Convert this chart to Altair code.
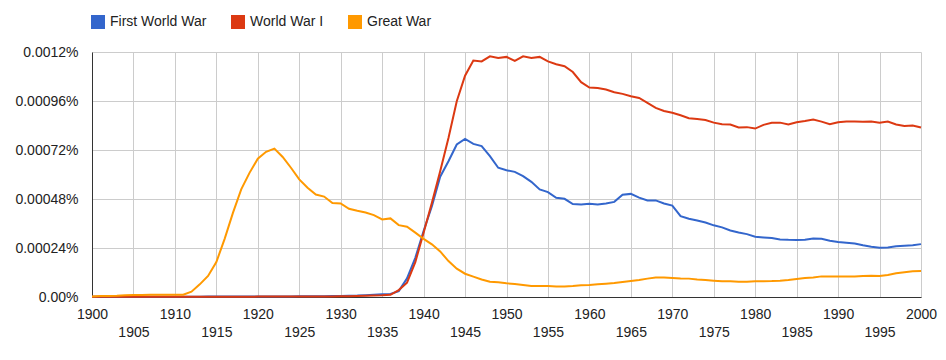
import altair as alt
import pandas as pd

# Values in millionths of a percent (1 = 0.000001%)
years = list(range(1900, 2001))

first_world_war = [
    1, 1, 1, 1, 1, 1, 1, 1, 1, 1,
    1, 1, 1, 1, 2, 2, 2, 2, 2, 2,
    3, 3, 3, 3, 3, 4, 4, 4, 4, 5,
    5, 6, 7, 9, 11,
    13, 15, 29, 91, 192, 323, 445, 589, 665, 747,
    774, 750, 739, 690, 633, 621, 613, 592, 564, 527,
    514, 486, 481, 455, 453, 457, 453, 458, 466, 501,
    505, 487, 473, 473, 458, 448, 396, 383, 375, 365,
    351, 341, 326, 316, 308, 295, 292, 289, 282, 280,
    279, 280, 287, 285, 276, 269, 266, 262, 253, 246,
    241, 243, 249, 251, 253, 259,
]

world_war_i = [
    1, 1, 1, 1, 1, 1, 1, 1, 1, 1,
    1, 1, 1, 1, 1, 1, 1, 1, 1, 1,
    2, 2, 2, 2, 2, 3, 3, 3, 3, 3,
    4, 4, 5, 6, 7,
    8, 11, 34, 70, 171, 315, 461, 616, 779, 959,
    1084, 1158, 1154, 1179, 1171, 1176, 1156, 1179, 1171, 1176,
    1154, 1140, 1130, 1102, 1052, 1026, 1024, 1016, 1003, 995,
    983, 975, 951, 926, 911, 902, 890, 876, 872, 867,
    854, 846, 845, 830, 832, 825, 843, 853, 854, 845,
    856, 862, 869, 859, 846, 856, 859, 859, 858, 859,
    854, 859, 845, 838, 840, 830,
]

great_war = [
    3, 5, 5, 6, 8, 10, 10, 11, 11, 11,
    11, 11, 26, 62, 103, 171, 285, 412, 527, 608,
    677, 711, 727, 686, 633, 576, 535, 502, 492, 460,
    458, 432, 422, 414, 401, 380, 385, 352, 344, 315,
    285, 258, 223, 176, 139, 114, 100, 86, 75, 72,
    67, 64, 59, 54, 54, 54, 52, 52, 54, 57,
    59, 62, 65, 68, 73, 78, 83, 90, 95, 95,
    93, 91, 90, 86, 83, 80, 77, 77, 75, 75,
    77, 77, 78, 80, 83, 88, 93, 96, 101, 101,
    101, 101, 101, 103, 104, 103, 108, 116, 121, 126,
    127,
]

series_names = ["First World War", "World War I", "Great War"]
series_colors = ["#3366cc", "#dc3912", "#ff9900"]
y_ticks = [0, 0.00024, 0.00048, 0.00072, 0.00096, 0.0012]
x_ticks = list(range(1900, 2001, 5))

rows = []
for idx, (name, vals) in enumerate(zip(series_names, [first_world_war, world_war_i, great_war])):
    for yr, v in zip(years, vals):
        rows.append({"year": yr, "series": name, "value": v * 1e-6, "idx": idx})
df = pd.DataFrame(rows)

FONT = "Liberation Sans"
TXT = "#222222"

x_enc = alt.X(
    "year:Q",
    scale=alt.Scale(domain=[1900, 2000], nice=False, zero=False),
    axis=alt.Axis(
        values=x_ticks, format="d", title=None, grid=True, gridColor="#cccccc",
        domainColor="#333333", ticks=False, labelFlush=False, labelOverlap=False,
        labelPadding=10, labelFontSize=14, labelFont=FONT, labelColor=TXT,
        labelExpr="datum.value % 10 == 5 ? ['', datum.label] : datum.label",
        labelLineHeight=18,
    ),
)
y_enc = alt.Y(
    "value:Q",
    scale=alt.Scale(domain=[0, 0.0012], nice=False),
    axis=alt.Axis(
        values=y_ticks, title=None, grid=True, gridColor="#cccccc",
        domainColor="#333333", ticks=False, labelPadding=14, labelFontSize=14,
        labelFont=FONT, labelColor=TXT,
        labelExpr="datum.value == 0 ? '0.00%' : format(datum.value, '.5~f') + '%'",
    ),
)
color_scale = alt.Scale(domain=series_names, range=series_colors)

lines = alt.Chart(df).mark_line(strokeWidth=2).encode(
    x=x_enc, y=y_enc,
    color=alt.Color("series:N", scale=color_scale, legend=None),
    detail="idx:N",
)

legend_pts = alt.Chart(df).mark_point(filled=True, shape="square", opacity=0, size=1).encode(
    x=alt.X("year:Q"), y=alt.Y("value:Q"),
    color=alt.Color(
        "series:N", scale=color_scale, sort=series_names,
        legend=alt.Legend(
            title=None, orient="none", legendX=-1, legendY=-37, direction="horizontal",
            symbolType="square", symbolSize=196, symbolOpacity=1, symbolStrokeWidth=0,
            labelFontSize=14, labelFont=FONT, labelColor=TXT, labelOffset=5,
            columnPadding=24, padding=0,
        ),
    ),
)

chart = alt.layer(lines, legend_pts).resolve_legend(color="independent").properties(
    width=829, height=245,
    autosize=alt.AutoSizeParams(type="none"),
    padding={"left": 84, "top": 44, "right": 17, "bottom": 50},
).configure_view(strokeWidth=0)

chart.save("out.html", embed_options={"renderer": "svg", "actions": False})
